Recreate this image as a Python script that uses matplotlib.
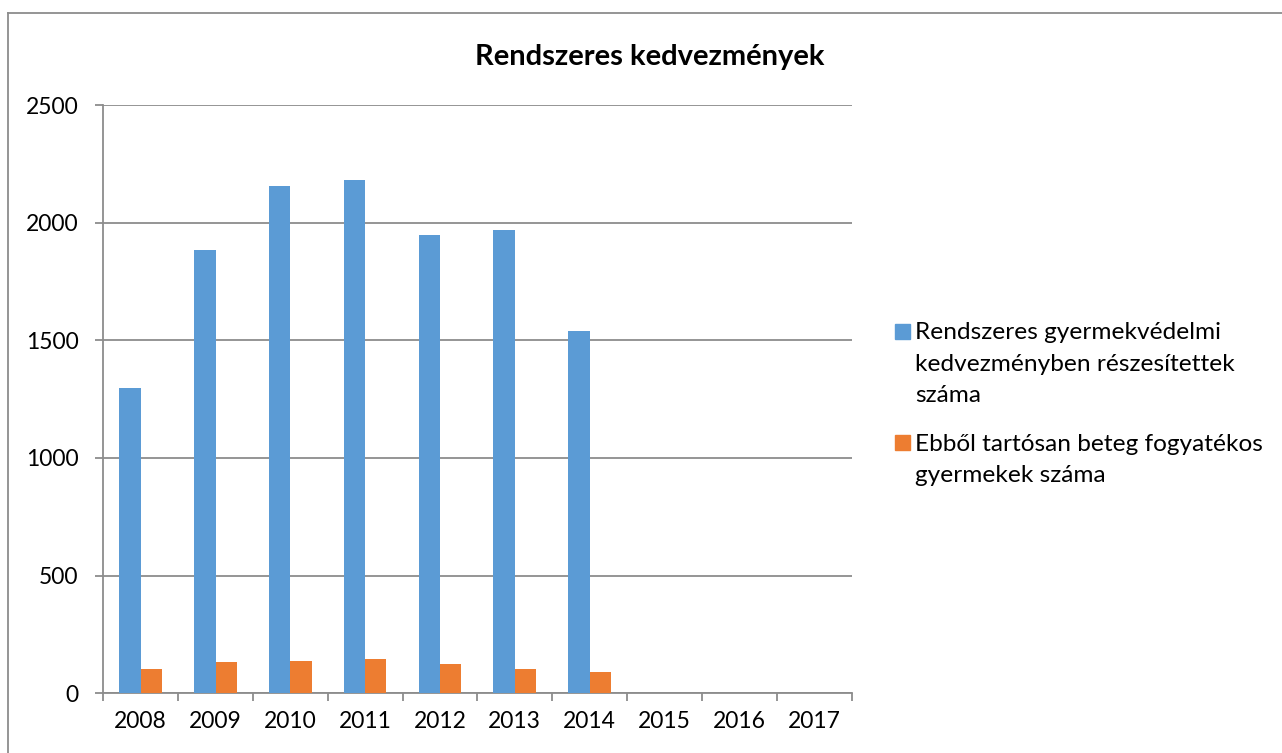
import numpy as np
import matplotlib.pyplot as plt
from matplotlib.lines import Line2D
from matplotlib.patches import Rectangle

# adatok
years = ['2008', '2009', '2010', '2011', '2012', '2013', '2014', '2015', '2016', '2017']
rendszeres = [1296, 1885, 2154, 2180, 1946, 1969, 1541, np.nan, np.nan, np.nan]
tartosan_beteg = [103, 133, 137, 145, 123, 103, 92, np.nan, np.nan, np.nan]

legend_labels = [
    ['Rendszeres gyermekvédelmi', 'kedvezményben részesítettek', 'száma'],
    ['Ebből tartósan beteg fogyatékos', 'gyermekek száma'],
]
title = 'Rendszeres kedvezmények'

blue = '#5B9BD5'
orange = '#ED7D31'
grid_col = '#8C8C8C'

plt.rcParams['font.family'] = ['Lato', 'DejaVu Sans']

W, H = 1282, 753
fig = plt.figure(figsize=(W / 100, H / 100), dpi=100)
ax = fig.add_axes([103.3 / W, 1 - 693.3 / H, 748.2 / W, (693.3 - 105) / H])

x = np.arange(len(years))
bw = 0.285
ax.bar(x - bw / 2, rendszeres, bw, color=blue, zorder=3)
ax.bar(x + bw / 2, tartosan_beteg, bw, color=orange, zorder=3)

ax.set_xlim(-0.5, len(years) - 0.5)
ax.set_ylim(0, 2500)
ax.set_yticks(np.arange(0, 2501, 500))
ax.yaxis.grid(True, color=grid_col, linewidth=1.3, zorder=0)

# kategóriahatárok tick-jei, címkék a kategóriák közepén
ax.set_xticks(np.arange(-0.5, len(years)), minor=False)
ax.set_xticklabels([])
ax.set_xticks(x, minor=True)
ax.set_xticklabels(years, minor=True)
ax.tick_params(axis='x', which='major', length=5.5, width=1.3, color=grid_col)
ax.tick_params(axis='x', which='minor', length=0, pad=13, labelsize=16.5)
ax.tick_params(axis='y', length=5.8, width=1.3, color=grid_col, pad=12, labelsize=16.5)

for s in ['top', 'right']:
    ax.spines[s].set_visible(False)
for s in ['left', 'bottom']:
    ax.spines[s].set_color(grid_col)
    ax.spines[s].set_linewidth(1.3)

fig.text(650 / W, 1 - 57 / H, title, ha='center', va='center',
         fontsize=21, fontweight='bold')

# jelmagyarázat
entries = [(blue, 339.3), (orange, 450.7)]
line_step = 31.5
for (col, base), lines in zip(entries, legend_labels):
    fig.patches.append(Rectangle((894.5 / W, 1 - (base - 0.5) / H), 15 / W, 15 / H,
                                 transform=fig.transFigure, color=col))
    for i, line in enumerate(lines):
        fig.text(915 / W, 1 - (base + i * line_step) / H, line,
                 ha='left', va='baseline', fontsize=17.6)

# diagramterület kerete
fig.add_artist(Line2D([8 / W, 1.0], [1 - 13 / H, 1 - 13 / H], color=grid_col,
                      linewidth=1.3, transform=fig.transFigure))
fig.add_artist(Line2D([8 / W, 8 / W], [1 - 13 / H, 0.0], color=grid_col,
                      linewidth=1.3, transform=fig.transFigure))

fig.savefig('out.png', dpi=100)
